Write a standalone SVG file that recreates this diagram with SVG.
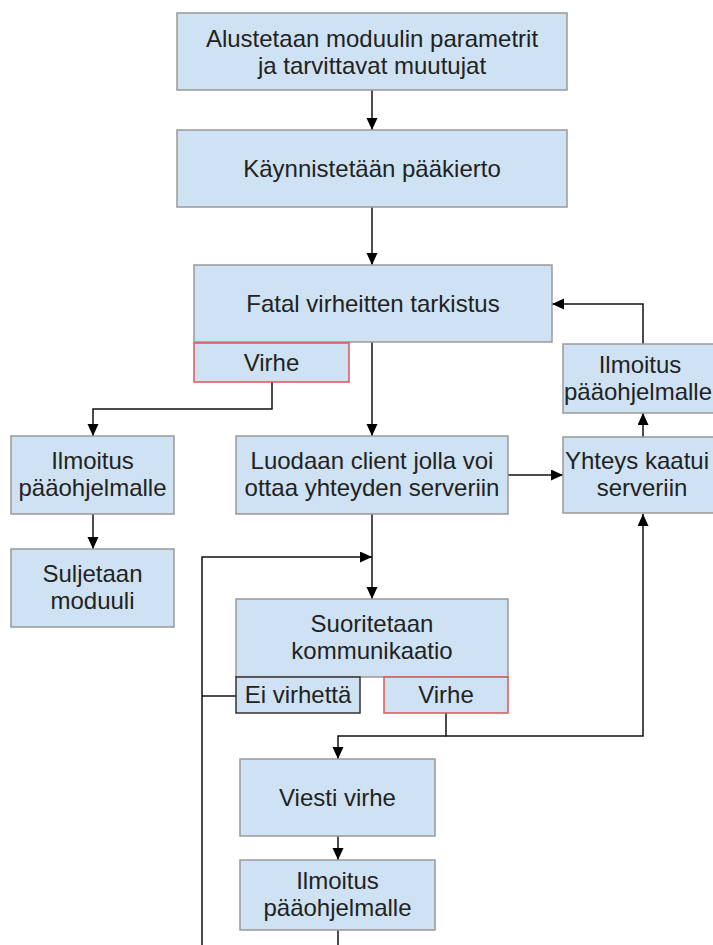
<svg xmlns="http://www.w3.org/2000/svg" width="713" height="945" viewBox="0 0 713 945">
<style>
.box{fill:#cfe2f3;stroke:#999;stroke-width:1.5}
.red{fill:#cfe2f3;stroke:#e05555;stroke-width:1.5}
.dark{fill:#cfe2f3;stroke:#333;stroke-width:1.5}
text{font-family:"Liberation Sans",Arial,sans-serif;font-size:24px;fill:#222;text-anchor:middle}
.c{fill:none;stroke:#111;stroke-width:1.5}
</style>
<defs>
<marker id="ah" markerWidth="13" markerHeight="12" refX="12" refY="5.5" orient="auto" markerUnits="userSpaceOnUse">
<path d="M0,0 L12,5.5 L0,11 Z" fill="#000"/>
</marker>
</defs>
<rect width="713" height="945" fill="#fff"/>
<g id="connectors">
<path class="c" d="M372,90 V130" marker-end="url(#ah)"/>
<path class="c" d="M372,207 V265" marker-end="url(#ah)"/>
<path class="c" d="M372,342 V436" marker-end="url(#ah)"/>
<path class="c" d="M272,382 V409 H93 V436" marker-end="url(#ah)"/>
<path class="c" d="M93,514 V549" marker-end="url(#ah)"/>
<path class="c" d="M508,475 H563" marker-end="url(#ah)"/>
<path class="c" d="M643,437 V413" marker-end="url(#ah)"/>
<path class="c" d="M643,344 V304 H552" marker-end="url(#ah)"/>
<path class="c" d="M372,514 V599" marker-end="url(#ah)"/>
<path class="c" d="M202,945 V557 H372" marker-end="url(#ah)"/>
<path class="c" d="M236,696 H202"/>
<path class="c" d="M446,713 V736 H643 V514" marker-end="url(#ah)"/>
<path class="c" d="M446,736 H338 V759" marker-end="url(#ah)"/>
<path class="c" d="M338,836 V860" marker-end="url(#ah)"/>
<path class="c" d="M338,930 V945"/>
</g>
<g id="n1"><rect class="box" x="177" y="13" width="390" height="77"/><text x="372" y="47">Alustetaan moduulin parametrit</text><text x="372" y="74">ja tarvittavat muutujat</text></g>
<g id="n2"><rect class="box" x="177" y="130" width="390" height="77"/><text x="372" y="177">Käynnistetään pääkierto</text></g>
<g id="n3"><rect class="box" x="194" y="265" width="358" height="77"/><text x="373" y="312">Fatal virheitten tarkistus</text></g>
<g id="n3v"><rect class="red" x="194" y="343" width="155" height="39"/><text x="271.5" y="371">Virhe</text></g>
<g id="n4"><rect class="box" x="11" y="436" width="163" height="78"/><text x="92.5" y="469">Ilmoitus</text><text x="92.5" y="496">pääohjelmalle</text></g>
<g id="n5"><rect class="box" x="11" y="549" width="163" height="78"/><text x="92.5" y="582">Suljetaan</text><text x="92.5" y="609">moduuli</text></g>
<g id="n6"><rect class="box" x="236" y="436" width="272" height="78"/><text x="372" y="469">Luodaan client jolla voi</text><text x="372" y="496">ottaa yhteyden serveriin</text></g>
<g id="n7"><rect class="box" x="563" y="437" width="160" height="76"/><text x="637" y="469">Yhteys kaatui</text><text x="642" y="496">serveriin</text></g>
<g id="n8"><rect class="box" x="563" y="344" width="160" height="69"/><text x="640" y="373">Ilmoitus</text><text x="638" y="400">pääohjelmalle</text></g>
<g id="n9"><rect class="box" x="236" y="599" width="272" height="78"/><text x="372" y="632">Suoritetaan</text><text x="372" y="659">kommunikaatio</text></g>
<g id="n9a"><rect class="dark" x="236" y="677" width="124" height="36"/><text x="298" y="703">Ei virhettä</text></g>
<g id="n9b"><rect class="red" x="384" y="677" width="124" height="36"/><text x="446" y="703">Virhe</text></g>
<g id="n10"><rect class="box" x="240" y="759" width="195" height="77"/><text x="337.5" y="806">Viesti virhe</text></g>
<g id="n11"><rect class="box" x="240" y="860" width="195" height="70"/><text x="337.5" y="889">Ilmoitus</text><text x="337.5" y="916">pääohjelmalle</text></g>
</svg>
